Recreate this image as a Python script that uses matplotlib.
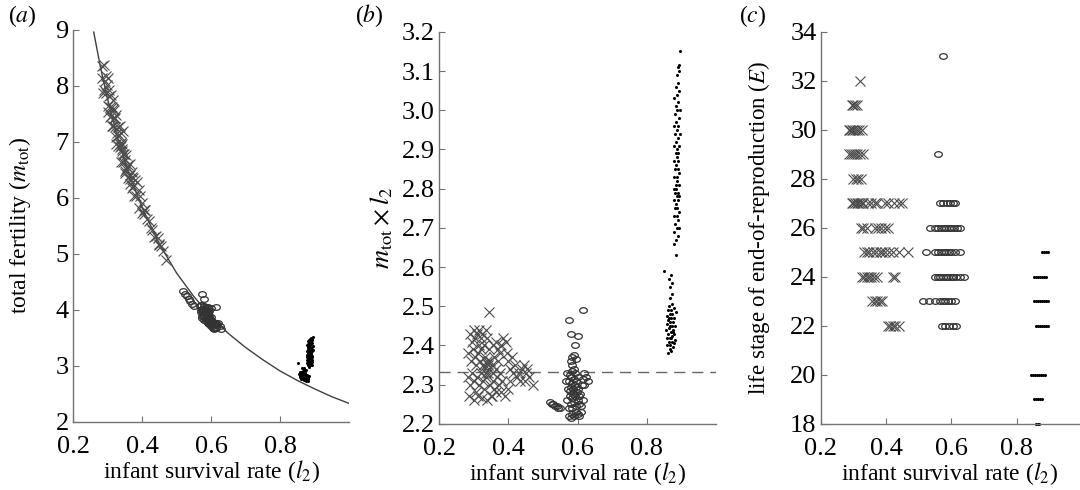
import numpy as np
import matplotlib
matplotlib.use("Agg")
import matplotlib.pyplot as plt
from matplotlib.path import Path
from matplotlib.transforms import Affine2D

plt.rcParams['font.family'] = ['Liberation Serif', 'DejaVu Serif']
plt.rcParams['mathtext.fontset'] = 'stix'

# replacement curve
curve_l2 = [0.26, 0.28, 0.30, 0.33, 0.36, 0.40, 0.45, 0.50, 0.55, 0.60,
            0.65, 0.70, 0.75, 0.80, 0.85, 0.90, 0.95, 1.00]
curve_m = [8.96, 8.32, 7.77, 7.06, 6.47, 5.83, 5.18, 4.66, 4.24, 3.88,
           3.58, 3.33, 3.11, 2.91, 2.74, 2.59, 2.45, 2.33]
replacement = 2.333

# crosses: l2 and m_tot*l2 (panel b)
cross_l2 = [0.290, 0.295, 0.300, 0.305, 0.310, 0.315, 0.320, 0.325, 0.335, 0.330,
            0.285, 0.292, 0.298, 0.303, 0.308, 0.312, 0.318, 0.322, 0.328, 0.333,
            0.338, 0.342, 0.345, 0.348, 0.352, 0.356, 0.360, 0.365, 0.370, 0.375,
            0.285, 0.290, 0.296, 0.302, 0.306, 0.311, 0.316, 0.321, 0.326, 0.331,
            0.336, 0.341, 0.346, 0.350, 0.355, 0.360, 0.366, 0.372, 0.378, 0.383,
            0.288, 0.300, 0.312, 0.325, 0.340, 0.352, 0.365, 0.390, 0.400, 0.405,
            0.380, 0.385, 0.392, 0.375, 0.395, 0.400, 0.410, 0.405, 0.415, 0.420,
            0.425, 0.430, 0.435, 0.440, 0.445, 0.450, 0.455, 0.448, 0.460, 0.470,
            0.345, 0.355, 0.365, 0.370, 0.338, 0.343, 0.316, 0.330, 0.340, 0.335]
cross_prod = [2.43, 2.41, 2.44, 2.42, 2.43, 2.44, 2.42, 2.43, 2.44, 2.40,
              2.38, 2.36, 2.39, 2.37, 2.35, 2.38, 2.36, 2.39, 2.35, 2.37,
              2.36, 2.35, 2.34, 2.36, 2.35, 2.33, 2.37, 2.34, 2.36, 2.33,
              2.32, 2.30, 2.33, 2.31, 2.28, 2.32, 2.30, 2.33, 2.31, 2.29,
              2.32, 2.33, 2.30, 2.27, 2.31, 2.29, 2.32, 2.30, 2.28, 2.31,
              2.27, 2.26, 2.27, 2.265, 2.26, 2.27, 2.28, 2.27, 2.29, 2.31,
              2.40, 2.42, 2.41, 2.38, 2.38, 2.36, 2.37, 2.34, 2.33, 2.35,
              2.32, 2.33, 2.31, 2.34, 2.35, 2.33, 2.34, 2.31, 2.32, 2.30,
              2.485, 2.40, 2.41, 2.39, 2.42, 2.39, 2.40, 2.345, 2.355, 2.33]

# circles
circ_l2 = [0.520, 0.530, 0.535, 0.540, 0.545, 0.550, 0.525,
           0.575, 0.580, 0.585, 0.590, 0.595, 0.600, 0.605, 0.610,
           0.575, 0.580, 0.585, 0.590, 0.595, 0.600, 0.605, 0.610, 0.615,
           0.570, 0.578, 0.583, 0.588, 0.593, 0.598, 0.603, 0.608,
           0.572, 0.577, 0.582, 0.587, 0.592, 0.597, 0.602, 0.612,
           0.568, 0.575, 0.580, 0.585, 0.590, 0.595, 0.600, 0.615,
           0.570, 0.578, 0.585, 0.592, 0.620, 0.625, 0.630, 0.618,
           0.580, 0.585, 0.590, 0.583, 0.595,
           0.592, 0.580, 0.600, 0.575, 0.615, 0.590]
circ_prod = [2.255, 2.25, 2.245, 2.245, 2.24, 2.24, 2.25,
             2.22, 2.215, 2.225, 2.22, 2.23, 2.225, 2.22, 2.23,
             2.24, 2.25, 2.24, 2.255, 2.245, 2.26, 2.25, 2.245, 2.26,
             2.26, 2.27, 2.265, 2.275, 2.27, 2.28, 2.27, 2.275,
             2.29, 2.285, 2.295, 2.29, 2.30, 2.295, 2.29, 2.30,
             2.31, 2.31, 2.32, 2.305, 2.315, 2.31, 2.32, 2.315,
             2.33, 2.325, 2.335, 2.33, 2.33, 2.32, 2.31, 2.30,
             2.36, 2.37, 2.375, 2.35, 2.365,
             2.40, 2.43, 2.425, 2.465, 2.49, 2.34]

# dots
dot_l2 = [0.862, 0.870, 0.866, 0.875, 0.858, 0.868, 0.878, 0.863, 0.872, 0.882,
          0.857, 0.866, 0.874, 0.880, 0.860, 0.869, 0.877, 0.856, 0.864, 0.873,
          0.881, 0.859, 0.868, 0.876, 0.862, 0.871, 0.879, 0.857, 0.866, 0.874,
          0.883, 0.861, 0.870, 0.878, 0.864, 0.872, 0.868, 0.870, 0.865, 0.875,
          0.866, 0.872, 0.868, 0.874, 0.865, 0.870, 0.851, 0.884, 0.880,
          0.884, 0.890, 0.879, 0.887, 0.893, 0.882, 0.889, 0.878, 0.886, 0.894,
          0.881, 0.888, 0.884, 0.891, 0.879, 0.886, 0.893, 0.882, 0.889, 0.885,
          0.878, 0.892, 0.883, 0.888, 0.880, 0.886, 0.894, 0.882, 0.889, 0.885,
          0.891, 0.879, 0.887, 0.883, 0.890, 0.886, 0.880, 0.893, 0.884, 0.889,
          0.882, 0.895, 0.887, 0.879, 0.891, 0.885, 0.893, 0.881, 0.888, 0.896,
          0.884, 0.890, 0.880, 0.887, 0.893, 0.885, 0.891, 0.888, 0.894, 0.889,
          0.893, 0.896]
dot_prod = [2.38, 2.385, 2.39, 2.395, 2.40, 2.40, 2.405, 2.41, 2.41, 2.415,
            2.42, 2.42, 2.425, 2.43, 2.43, 2.435, 2.44, 2.44, 2.445, 2.45,
            2.45, 2.455, 2.46, 2.46, 2.465, 2.47, 2.47, 2.475, 2.48, 2.48,
            2.485, 2.49, 2.49, 2.495, 2.50, 2.505, 2.45, 2.42, 2.47, 2.435,
            2.52, 2.53, 2.55, 2.56, 2.57, 2.58, 2.59, 2.63, 2.66,
            2.67, 2.68, 2.69, 2.70, 2.70, 2.71, 2.72, 2.73, 2.73, 2.74,
            2.75, 2.75, 2.76, 2.77, 2.77, 2.78, 2.78, 2.79, 2.79, 2.80,
            2.80, 2.81, 2.81, 2.82, 2.83, 2.83, 2.84, 2.85, 2.85, 2.86,
            2.87, 2.87, 2.88, 2.89, 2.89, 2.90, 2.91, 2.91, 2.92, 2.93,
            2.94, 2.94, 2.95, 2.96, 2.96, 2.97, 2.98, 2.99, 3.00, 3.00,
            3.01, 3.02, 3.03, 3.04, 3.05, 3.06, 3.07, 3.09, 3.10, 3.11,
            3.115, 3.15]

# panel (c): rows of (E, l2 values)
c_cross_rows = [
    (32, [0.319]),
    (31, [0.294, 0.300, 0.306, 0.312]),
    (30, [0.285, 0.290, 0.295, 0.300, 0.305, 0.310, 0.318, 0.325]),
    (29, [0.285, 0.292, 0.298, 0.305, 0.312, 0.320, 0.330]),
    (28, [0.300, 0.308, 0.315, 0.322]),
    (27, [0.295, 0.300, 0.305, 0.310, 0.315, 0.320, 0.325, 0.330, 0.345,
          0.355, 0.365, 0.372, 0.395, 0.405, 0.425, 0.440, 0.450]),
    (26, [0.322, 0.330, 0.340, 0.365, 0.375, 0.385, 0.395, 0.405]),
    (25, [0.332, 0.340, 0.348, 0.360, 0.370, 0.380, 0.388, 0.396, 0.410,
          0.420, 0.440, 0.468]),
    (24, [0.325, 0.333, 0.340, 0.347, 0.355, 0.363, 0.372, 0.420, 0.428]),
    (23, [0.358, 0.366, 0.373, 0.380, 0.388]),
    (22, [0.405, 0.413, 0.420, 0.428, 0.440]),
]
c_circ_rows = [
    (33, [0.575]),
    (29, [0.560]),
    (27, [0.565, 0.575, 0.585, 0.595, 0.605, 0.612]),
    (26, [0.535, 0.548, 0.560, 0.568, 0.576, 0.584, 0.592, 0.600, 0.608, 0.618, 0.625]),
    (25, [0.522, 0.548, 0.560, 0.568, 0.576, 0.584, 0.592, 0.600, 0.612, 0.625]),
    (24, [0.548, 0.558, 0.566, 0.574, 0.582, 0.590, 0.598, 0.606, 0.614, 0.625, 0.637]),
    (23, [0.512, 0.530, 0.548, 0.565, 0.573, 0.581, 0.589, 0.598, 0.610]),
    (22, [0.570, 0.580, 0.592, 0.605, 0.615]),
]
c_dot_rows = [
    (25, [0.878, 0.884, 0.890, 0.896]),
    (24, [0.853, 0.858, 0.864, 0.870, 0.876, 0.882, 0.888]),
    (23, [0.853, 0.859, 0.865, 0.871, 0.877, 0.883, 0.889, 0.895]),
    (22, [0.858, 0.864, 0.870, 0.876, 0.882, 0.888, 0.894]),
    (20, [0.843, 0.849, 0.855, 0.861, 0.867, 0.873, 0.879, 0.885]),
    (19, [0.853, 0.859, 0.865, 0.871, 0.877]),
    (18, [0.858, 0.864, 0.869]),
]


def rows_xy(rows):
    xs, ys = [], []
    for e, vals in rows:
        xs += vals
        ys += [e] * len(vals)
    return xs, ys


cross_m = np.array(cross_prod) / np.array(cross_l2)
circ_m = np.array(circ_prod) / np.array(circ_l2)
dot_m = np.array(dot_prod) / np.array(dot_l2)

# circles in the original are slightly flattened
oval = Path.unit_circle().transformed(Affine2D().scale(1.35, 1.0))

cross_kw = dict(ls='none', marker='x', ms=6.5, mew=0.8, color='0.3')
circ_kw = dict(ls='none', marker=oval, ms=5.5, mew=0.9, mfc='none', color='0.2')
dot_kw = dict(ls='none', marker='o', ms=2.2, mew=0, color='black')

fig = plt.figure(figsize=(10.8, 4.9), dpi=100)
ax_a = fig.add_axes([0.0676, 0.139, 0.2556, 0.800])
ax_b = fig.add_axes([0.4065, 0.135, 0.2565, 0.800])
ax_c = fig.add_axes([0.7600, 0.135, 0.2390, 0.800])


def style(ax):
    for s in ['top', 'right']:
        ax.spines[s].set_visible(False)
    for s in ['left', 'bottom']:
        ax.spines[s].set_color('0.45')
        ax.spines[s].set_linewidth(1.0)
    ax.tick_params(direction='in', length=4, width=0.8, color='0.45',
                   labelsize=19)
    ax.tick_params(axis='x', pad=10)
    ax.tick_params(axis='y', pad=3)
    ax.set_xticks([0.2, 0.4, 0.6, 0.8])
    ax.set_xticklabels(['0.2', '0.4', '0.6', '0.8'])
    ax.set_xlabel('infant survival rate ($l_2$)', fontsize=17, labelpad=0)


# (a)
ax_a.plot(curve_l2, curve_m, color='0.25', lw=1.0)
ax_a.plot(cross_l2, cross_m, **cross_kw)
ax_a.plot(circ_l2, circ_m, **circ_kw)
ax_a.plot(dot_l2, dot_m, **dot_kw)
ax_a.set_xlim(0.2, 1.0)
ax_a.set_ylim(2, 9)
ax_a.set_yticks(range(2, 10))
style(ax_a)
ax_a.set_ylabel('total fertility ($m_{\\rm tot}$)', fontsize=17)
ax_a.yaxis.set_label_coords(-0.145, 0.5)
fig.text(0.021, 0.968, '($a$)', fontsize=17, ha='center', va='center')

# (b)
ax_b.axhline(replacement, color='0.4', lw=1.0, dashes=(8, 5))
ax_b.plot(cross_l2, cross_prod, **cross_kw)
ax_b.plot(circ_l2, circ_prod, **circ_kw)
ax_b.plot(dot_l2, dot_prod, **dot_kw)
ax_b.set_xlim(0.2, 1.0)
ax_b.set_ylim(2.2, 3.2)
ax_b.set_yticks(np.arange(22, 33) / 10)
ax_b.set_yticklabels([f'{v / 10:.1f}' for v in range(22, 33)])
style(ax_b)
ax_b.set_ylabel('$m_{\\rm tot} \\times l_2$', fontsize=19)
ax_b.yaxis.set_label_coords(-0.16, 0.5)
fig.text(0.342, 0.968, '($b$)', fontsize=17, ha='center', va='center')

# (c)
x, y = rows_xy(c_cross_rows)
ax_c.plot(x, y, **cross_kw)
x, y = rows_xy(c_circ_rows)
ax_c.plot(x, y, **circ_kw)
x, y = rows_xy(c_dot_rows)
ax_c.plot(x, y, clip_on=False, **dot_kw)
ax_c.set_xlim(0.2, 0.99)
ax_c.set_ylim(18, 34)
ax_c.set_yticks(range(18, 35, 2))
style(ax_c)
ax_c.set_ylabel('life stage of end-of-reproduction ($E$)', fontsize=16.5)
ax_c.yaxis.set_label_coords(-0.19, 0.5)
fig.text(0.697, 0.968, '($c$)', fontsize=17, ha='center', va='center')

fig.savefig('out.png', dpi=100)
